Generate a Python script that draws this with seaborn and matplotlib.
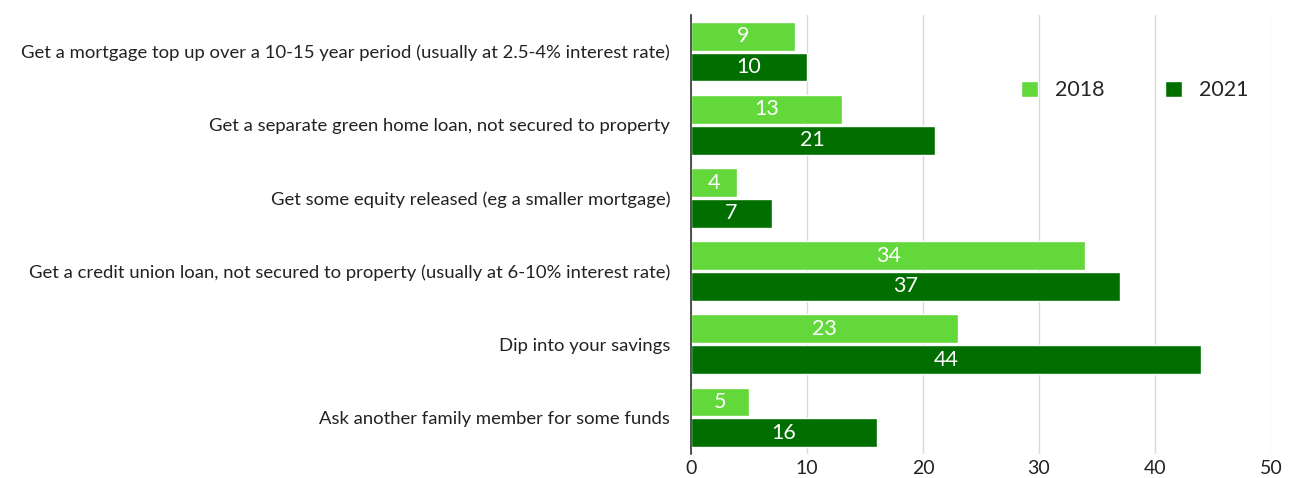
import matplotlib
matplotlib.use("Agg")
import matplotlib.pyplot as plt
import seaborn as sns
import pandas as pd
from matplotlib.patches import Patch

categories = [
    "Get a mortgage top up over a 10-15 year period (usually at 2.5-4% interest rate)",
    "Get a separate green home loan, not secured to property",
    "Get some equity released (eg a smaller mortgage)",
    "Get a credit union loan, not secured to property (usually at 6-10% interest rate)",
    "Dip into your savings",
    "Ask another family member for some funds",
]
values_2018 = [9, 13, 4, 34, 23, 5]
values_2021 = [10, 21, 7, 37, 44, 16]
years = ["2018", "2021"]
colors = ["#62D83A", "#006F00"]

df = pd.DataFrame({
    "option": categories * 2,
    "year": [years[0]] * len(categories) + [years[1]] * len(categories),
    "value": values_2018 + values_2021,
})

sns.set_theme(style="white")
plt.rcParams["font.family"] = ["Lato", "DejaVu Sans"]

fig = plt.figure(figsize=(12.98, 4.78), dpi=100)
ax = fig.add_axes([691 / 1298, 1 - 454 / 478, 580 / 1298, 439 / 478])

sns.barplot(data=df, y="option", x="value", hue="year", order=categories,
            hue_order=years, palette=colors, orient="h", width=0.84, gap=0.06,
            saturation=1, ax=ax, legend=False)

for container in ax.containers:
    ax.bar_label(container, label_type="center", color="white", fontsize=15.5)

ax.set_xlim(0, 50)
ax.set_xticks(range(0, 51, 10))
ax.xaxis.grid(True, color="#D9D9D9", linewidth=1)
ax.set_axisbelow(True)
for side in ["top", "right", "bottom"]:
    ax.spines[side].set_visible(False)
ax.spines["left"].set_color("#333333")
ax.spines["left"].set_linewidth(1.2)
ax.set_xlabel("")
ax.set_ylabel("")
ax.tick_params(axis="y", length=0, pad=15, labelsize=13.3, labelcolor="#222222")
ax.tick_params(axis="x", length=0, pad=4, labelsize=14, labelcolor="#222222")

handles = [Patch(facecolor=c, label=y) for c, y in zip(colors, years)]
ax.legend(handles=handles, loc="upper right", bbox_to_anchor=(0.995, 0.895),
          ncol=2, frameon=False, fontsize=15.5, handlelength=0.8,
          handleheight=0.8, columnspacing=2.8, handletextpad=0.8)

fig.savefig("out.png", dpi=100)
